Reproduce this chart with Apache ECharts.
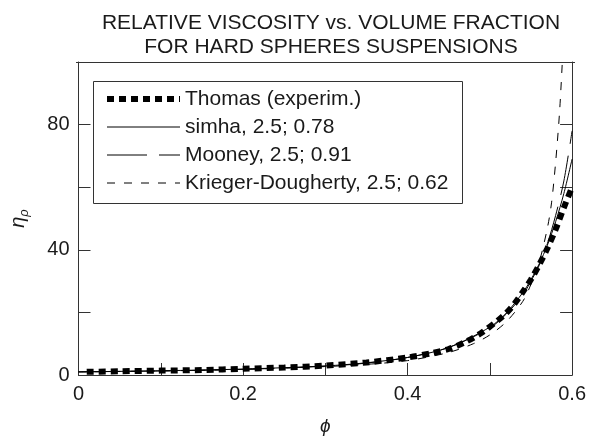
<!DOCTYPE html>
<html>
<head>
<meta charset="utf-8">
<script src="https://cdn.jsdelivr.net/npm/echarts@6/dist/echarts.min.js"></script>
<style>
html,body{margin:0;padding:0;background:#fff;}
#chart{width:589px;height:441px;}
</style>
</head>
<body>
<div id="chart"></div>
<script>
// ---- data ----
var titleLines = ['RELATIVE VISCOSITY vs. VOLUME FRACTION', 'FOR HARD SPHERES SUSPENSIONS'];
var seriesNames = ['Thomas (experim.)', 'simha, 2.5; 0.78', 'Mooney, 2.5; 0.91', 'Krieger-Dougherty, 2.5; 0.62'];
var xTickLabels = ['0', '0.2', '0.4', '0.6'];
var yTickLabels = ['0', '40', '80'];

var phiThomas = [0.01, 0.05, 0.10, 0.15, 0.20, 0.25, 0.30, 0.35, 0.40, 0.43, 0.45, 0.47, 0.49, 0.51, 0.52, 0.53, 0.54, 0.55, 0.56, 0.57, 0.58, 0.59, 0.60];
var etaThomas = [1.0, 1.2, 1.4, 1.6, 2.0, 2.4, 3.0, 4.0, 5.6, 7.0, 8.3, 10.5, 13.5, 17.5, 19.8, 22.8, 26.5, 30.5, 35.2, 40.5, 46.5, 53.5, 60.0];

var phiSimha = [0.0, 0.10, 0.20, 0.30, 0.35, 0.40, 0.45, 0.50, 0.52, 0.54, 0.55, 0.56, 0.57, 0.58, 0.59, 0.60];
var etaSimha = [1.0, 1.35, 1.9, 2.9, 3.9, 5.6, 8.8, 15.3, 19.8, 26.3, 30.5, 35.5, 41.5, 49.0, 58.0, 69.0];

var phiMooney = [0.0, 0.10, 0.20, 0.30, 0.35, 0.40, 0.45, 0.50, 0.52, 0.54, 0.55, 0.56, 0.57, 0.58, 0.59, 0.60];
var etaMooney = [1.0, 1.3, 1.8, 2.8, 3.8, 5.6, 8.8, 15.0, 19.5, 25.5, 30.0, 35.0, 42.0, 51.0, 62.0, 78.0];

var phiKrieger = [0.0, 0.10, 0.20, 0.30, 0.35, 0.40, 0.45, 0.48, 0.50, 0.52, 0.54, 0.55, 0.56, 0.57, 0.575, 0.58, 0.585, 0.59];
var etaKrieger = [1.0, 1.3, 1.8, 2.7, 3.4, 4.6, 7.2, 10.0, 12.8, 17.0, 23.5, 29.0, 36.0, 47.0, 55.0, 68.0, 85.0, 110.0];

function zip(a, b) { return a.map(function (v, i) { return [v, b[i]]; }); }

var FONT = '"Liberation Sans", Arial, Helvetica, sans-serif';
var TXT = '#1a1a1a';
var AX = '#333';

var chart = echarts.init(document.getElementById('chart'), null, {renderer: 'canvas'});

var styles = [
  {width: 6, type: [7, 5]},
  {width: 1, type: 'solid'},
  {width: 1, type: [40, 12]},
  {width: 1, type: [8, 9]}
];

var series = [
  zip(phiThomas, etaThomas),
  zip(phiSimha, etaSimha),
  zip(phiMooney, etaMooney),
  zip(phiKrieger, etaKrieger)
].map(function (d, i) {
  return {
    name: seriesNames[i],
    type: 'line',
    data: d,
    symbol: 'none',
    showSymbol: false,
    smooth: 0.3,
    clip: true,
    z: 10 - i,
    itemStyle: {color: '#000'},
    lineStyle: {color: '#000', width: styles[i].width, type: styles[i].type, cap: 'butt'}
  };
});

var option = {
  animation: false,
  backgroundColor: '#fff',
  color: ['#000', '#000', '#000', '#000'],
  title: {
    text: titleLines.join('\n'),
    left: 326,
    textAlign: 'center',
    top: 6,
    textStyle: {fontFamily: FONT, fontSize: 21, fontWeight: 'normal', color: TXT, lineHeight: 24}
  },
  grid: {left: 76, right: 14, top: 62, bottom: 59, containLabel: false},
  legend: {
    orient: 'vertical',
    left: 104,
    top: 88,
    itemWidth: 73,
    itemHeight: 14,
    itemGap: 6,
    padding: 0,
    selectedMode: false,
    textStyle: {fontFamily: FONT, fontSize: 21, color: TXT, lineHeight: 22, padding: [0, 0, 0, 0]},
    data: seriesNames.map(function (n, i) {
      return {
        name: n,
        itemStyle: {color: 'rgba(0,0,0,0)', borderColor: 'rgba(0,0,0,0)', borderWidth: 0, opacity: 0},
        lineStyle: {color: '#000', width: styles[i].width, type: styles[i].type, opacity: 1}
      };
    })
  },
  graphic: [{
    type: 'rect',
    shape: {x: 93.5, y: 81.5, width: 369, height: 122},
    style: {fill: null, stroke: AX, lineWidth: 1},
    z: 100
  }],
  xAxis: {
    type: 'value',
    min: 0, max: 0.6, interval: 0.1,
    name: 'ϕ',
    nameLocation: 'middle',
    nameGap: 42,
    nameTextStyle: {fontFamily: FONT, fontSize: 19, fontStyle: 'italic', color: TXT},
    axisLine: {show: true, onZero: false, lineStyle: {color: AX, width: 1}},
    axisTick: {show: true, inside: true, length: 12, lineStyle: {color: AX}},
    axisLabel: {
      fontFamily: FONT, fontSize: 20, color: TXT, margin: 9,
      formatter: function (v) {
        var k = Math.round(v * 10);
        return k % 2 === 0 ? xTickLabels[k / 2] : '';
      }
    },
    splitLine: {show: false}
  },
  yAxis: [{
    type: 'value',
    min: 0, max: 100, interval: 20,
    name: '{a|η}{b|ρ}',
    nameLocation: 'middle',
    nameRotate: 90,
    nameGap: 48,
    nameTextStyle: {
      fontFamily: FONT, color: TXT,
      rich: {
        a: {fontFamily: FONT, fontSize: 20, fontStyle: 'italic', color: TXT},
        b: {fontFamily: FONT, fontSize: 13, fontStyle: 'italic', color: TXT, padding: [12, 0, 0, 0]}
      }
    },
    axisLine: {show: true, lineStyle: {color: AX, width: 1}},
    axisTick: {show: true, inside: true, length: 12, lineStyle: {color: AX}},
    axisLabel: {
      fontFamily: FONT, fontSize: 20, color: TXT, margin: 9,
      formatter: function (v) {
        var k = Math.round(v / 20);
        if (k === 0) return yTickLabels[0];
        if (k === 2) return yTickLabels[1];
        if (k === 4) return yTickLabels[2];
        return '';
      }
    },
    splitLine: {show: false}
  }, {
    type: 'value',
    position: 'right',
    min: 0, max: 100, interval: 20,
    axisLine: {show: true, lineStyle: {color: AX, width: 1}},
    axisTick: {show: true, inside: true, length: 12, lineStyle: {color: AX}},
    axisLabel: {show: false},
    splitLine: {show: false}
  }],
  series: series
};

// top border line of the frame (no ticks)
option.graphic.push({
  type: 'line',
  shape: {x1: 76, y1: 62.5, x2: 575, y2: 62.5},
  style: {stroke: AX, lineWidth: 1},
  z: 100
});

chart.setOption(option);
</script>
</body>
</html>
